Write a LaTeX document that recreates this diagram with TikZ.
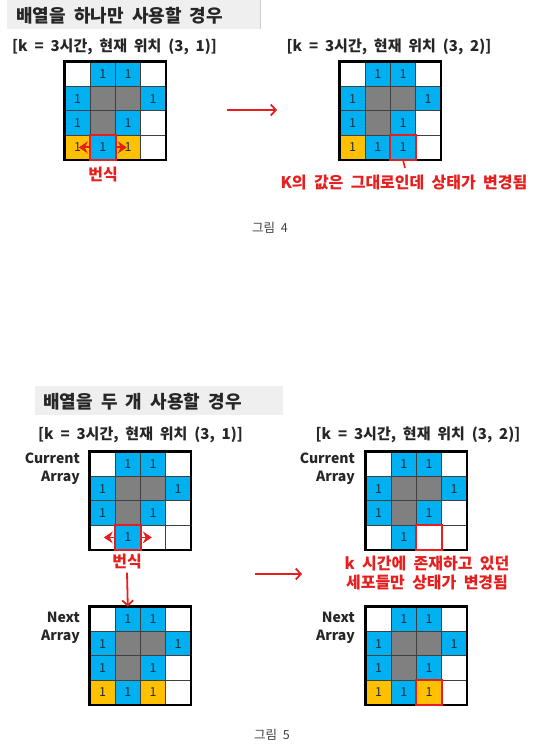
\documentclass[tikz,border=0pt]{standalone}
\usepackage{fontspec}
\setmainfont{Noto Sans CJK KR}[WordSpace=2]
\usetikzlibrary{arrows.meta}
\definecolor{cblue}{HTML}{00B0F0}
\definecolor{corange}{HTML}{FFC000}
\definecolor{cgray}{HTML}{808080}
\definecolor{cred}{HTML}{E61E1E}
\definecolor{banner}{HTML}{EFEFEF}
\definecolor{numc}{HTML}{203040}
\tikzset{
  cell/.style={draw=black!75, line width=0.8pt, minimum width=25.2pt, minimum height=24.4pt, inner sep=0pt, font=\fontsize{12.5}{12.5}\selectfont, text=numc},
  cw/.style={cell, fill=white},
  cb/.style={cell, fill=cblue, execute at begin node={1}},
  cg/.style={cell, fill=cgray},
  co/.style={cell, fill=corange, execute at begin node={1}},
  titletext/.style={font=\bfseries\fontsize{18}{20}\selectfont, text=black!85, anchor=west, inner sep=0pt},
  subtext/.style={font=\bfseries\fontsize{15}{16}\selectfont, text=black!85, inner sep=0pt},
  redtext/.style={font=\bfseries\fontsize{16}{19.5}\selectfont, text=cred, inner sep=0pt, align=center},
  arrlabel/.style={font=\bfseries\fontsize{14}{18}\selectfont, text=black!85, align=right, anchor=east, inner sep=0pt},
  captext/.style={font=\fontsize{12.5}{14}\selectfont, text=black!75, inner sep=0pt},
  redbox/.style={draw=cred, line width=2pt},
  bigarrow/.style={draw=cred, line width=1.8pt, -{Straight Barb[length=5pt,width=11pt]}},
  spread/.style={draw=cred, line width=1.8pt, -{Stealth[length=9pt,width=12pt,inset=3pt,line width=1pt]}},
}
\newcommand\cellgrid[4]{%
  \foreach \cc [count=\ii from 0] in {#4}{%
    \pgfmathtruncatemacro\gc{mod(\ii,4)}%
    \pgfmathtruncatemacro\gr{div(\ii,4)}%
    \node[c\cc] (#1-\gr-\gc) at ({#2+(\gc+0.5)*25.2},{#3+(\gr+0.5)*24.4}) {};
  }
  \draw[line width=2.5pt] (#1-0-0.north west) rectangle (#1-3-3.south east);
}
\begin{document}
\begin{tikzpicture}[x=1pt,y=-1pt]
\useasboundingbox (0,0) rectangle (536,751);
% ---------- figure 4 ----------
\fill[banner] (7,0) rectangle (260,29);
\draw[black!20, line width=0.8pt] (260,0) -- (260,29);
\node[titletext] (title1) at (16,16) {배열을 하나만 사용할 경우};
\node[subtext] (sub1) at (114.5,47) {[k = 3시간, 현재 위치 (3, 1)]};
\node[subtext] (sub2) at (389,47) {[k = 3시간, 현재 위치 (3, 2)]};
\cellgrid{ga}{65}{62}{w,b,b,w,b,g,g,b,b,g,b,w,o,b,o,w}
\cellgrid{gb}{340}{62}{w,b,b,w,b,g,g,b,b,g,b,w,o,b,b,w}
\draw[redbox] (ga-3-1.north west) rectangle (ga-3-1.south east);
\draw[redbox] (gb-3-2.north west) rectangle (gb-3-2.south east);
\coordinate (gaL) at ([xshift=-11pt]ga-3-1.west);
\coordinate (gaR) at ([xshift=11pt]ga-3-1.east);
\draw[spread] (ga-3-1.west) -- (gaL);
\draw[spread] (ga-3-1.east) -- (gaR);
\node[redtext] (bs1) at (103,175) {번식};
\coordinate (arA) at (227,110);
\coordinate (arB) at (277,110);
\draw[bigarrow] (arA) -- (arB);
\coordinate (tickE) at (405,168);
\draw[draw=cred, line width=1.6pt] (gb-3-2.south) -- (tickE);
\node[redtext] (red1) at (404,183) {K의 값은 그대로인데 상태가 변경됨};
\node[captext] (cap4) at (270,228) {그림 4};
% ---------- figure 5 ----------
\fill[banner] (35,386) rectangle (283,415);
\node[titletext] (title2) at (43,402) {배열을 두 개 사용할 경우};
\node[subtext] (sub3) at (140.5,435) {[k = 3시간, 현재 위치 (3, 1)]};
\node[subtext] (sub4) at (418,435) {[k = 3시간, 현재 위치 (3, 2)]};
\node[arrlabel] (curL) at (80,469) {Current\\Array};
\node[arrlabel] (curR) at (355,469) {Current\\Array};
\node[arrlabel] (nextL) at (80,628) {Next\\Array};
\node[arrlabel] (nextR) at (355,628) {Next\\Array};
\cellgrid{gc}{90}{452}{w,b,b,w,b,g,g,b,b,g,b,w,w,b,w,w}
\cellgrid{gd}{366}{452}{w,b,b,w,b,g,g,b,b,g,b,w,w,b,w,w}
\cellgrid{ge}{90}{607}{w,b,b,w,b,g,g,b,b,g,b,w,o,b,o,w}
\cellgrid{gf}{366}{607}{w,b,b,w,b,g,g,b,b,g,b,w,o,b,o,w}
\draw[redbox] (gc-3-1.north west) rectangle (gc-3-1.south east);
\draw[redbox] (gd-3-2.north west) rectangle (gd-3-2.south east);
\draw[redbox] (gf-3-2.north west) rectangle (gf-3-2.south east);
\coordinate (gcL) at ([xshift=-11pt]gc-3-1.west);
\coordinate (gcR) at ([xshift=11pt]gc-3-1.east);
\draw[spread] (gc-3-1.west) -- (gcL);
\draw[spread] (gc-3-1.east) -- (gcR);
\node[redtext] (bs2) at (127,562) {번식};
\draw[bigarrow] ([yshift=-3pt]bs2.south) -- (ge-0-1.north);
\coordinate (arC) at (255,574);
\coordinate (arD) at (302,574);
\draw[bigarrow] (arC) -- (arD);
\node[redtext] (red2) at (427,573) {k 시간에 존재하고 있던\\세포들만 상태가 변경됨};
\node[captext] (cap5) at (272,735) {그림 5};
\end{tikzpicture}
\end{document}
